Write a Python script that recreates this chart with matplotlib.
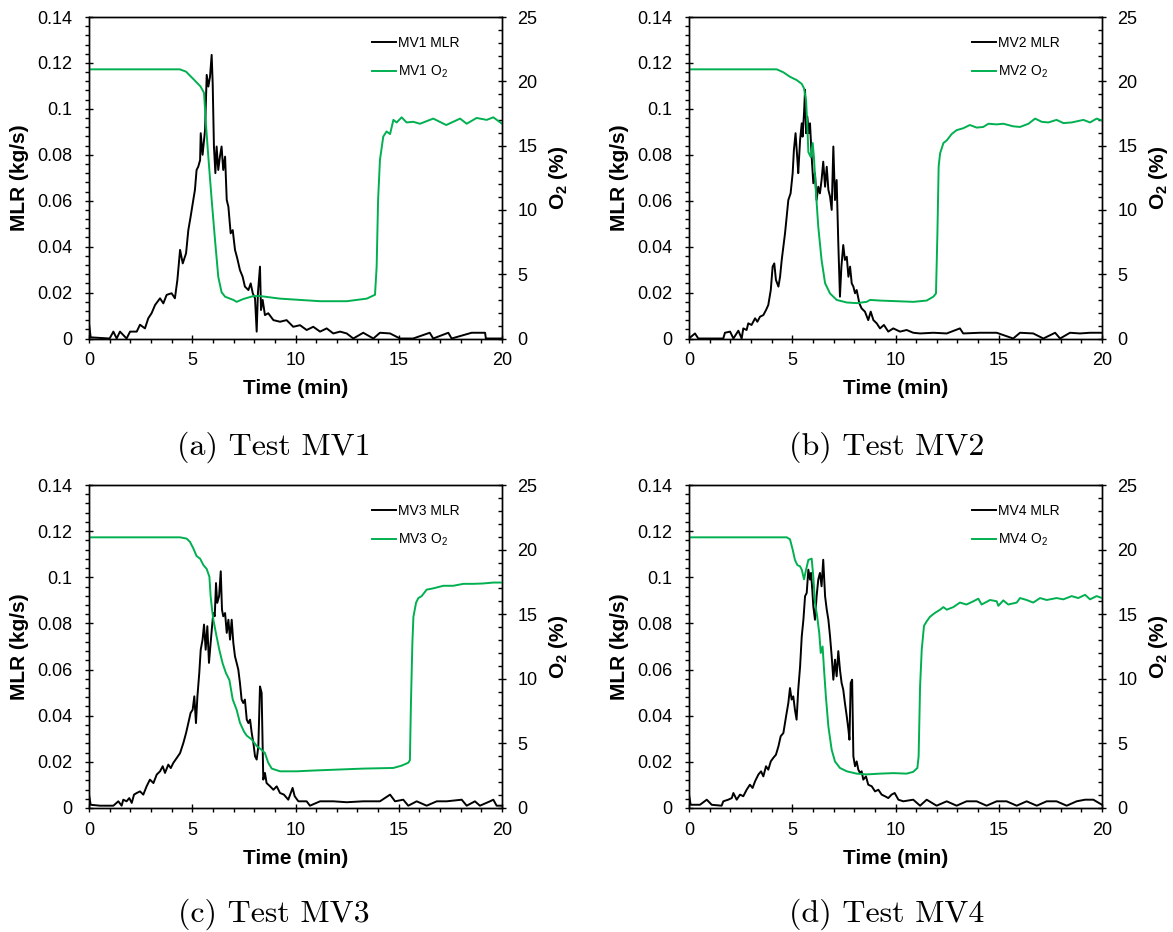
import numpy as np
import matplotlib
matplotlib.use('Agg')
import matplotlib.pyplot as plt
from matplotlib.ticker import MultipleLocator, FuncFormatter

plt.rcParams['font.family'] = ['Liberation Sans', 'DejaVu Sans']
plt.rcParams['mathtext.fontset'] = 'custom'
plt.rcParams['mathtext.rm'] = 'Liberation Sans'
plt.rcParams['mathtext.bf'] = 'Liberation Sans:bold'

GREEN = '#00B050'

# ---- Test MV1 ----
t_mlr1 = [0.0, 0.08, 1.0, 1.18, 1.34, 1.5, 1.82, 1.99, 2.31, 2.47, 2.71, 2.87, 3.03, 3.2, 3.44, 3.6,
          3.76, 4.0, 4.16, 4.28, 4.41, 4.54, 4.7, 4.81, 4.92, 5.05, 5.13, 5.21, 5.29, 5.38, 5.41, 5.5,
          5.62, 5.7, 5.78, 5.86, 5.94, 5.99, 6.05, 6.12, 6.18, 6.26, 6.34, 6.42, 6.5, 6.59, 6.67, 6.75,
          6.86, 6.96, 7.07, 7.18, 7.31, 7.44, 7.55, 7.72, 7.83, 7.93, 8.04, 8.12, 8.18, 8.28, 8.33, 8.41,
          8.52, 8.68, 8.93, 9.25, 9.57, 9.89, 10.22, 10.54, 10.86, 11.19, 11.51, 11.83, 12.16, 12.48,
          12.8, 13.28, 13.77, 14.09, 14.58, 15.06, 15.7, 16.5, 16.67, 17.4, 17.56, 18.53, 19.18, 19.22, 20.0]
mlr1 = [0.0066, 0.0005, 0.0, 0.003, 0.0, 0.003, 0.0, 0.003, 0.003, 0.006, 0.0044, 0.0088, 0.011, 0.0146,
        0.0175, 0.0153, 0.019, 0.0197, 0.0175, 0.0255, 0.0386, 0.0327, 0.0371, 0.0472, 0.053, 0.0603,
        0.0647, 0.0734, 0.0748, 0.0777, 0.0894, 0.08, 0.0908, 0.1148, 0.1097, 0.114, 0.1235, 0.111,
        0.0836, 0.072, 0.0836, 0.0734, 0.0792, 0.0836, 0.0734, 0.0792, 0.0603, 0.0574, 0.0458, 0.0472,
        0.0386, 0.0349, 0.0298, 0.0269, 0.0226, 0.0211, 0.024, 0.0197, 0.0175, 0.003, 0.0197, 0.0313,
        0.0124, 0.0168, 0.0102, 0.011, 0.008, 0.0073, 0.008, 0.0051, 0.0058, 0.0037, 0.0051, 0.003,
        0.0044, 0.0022, 0.003, 0.0022, 0.0, 0.0025, 0.0, 0.0025, 0.0022, 0.0, 0.0, 0.0025, 0.0, 0.0025,
        0.0, 0.0025, 0.0025, 0.0, 0.0]
t_o2_1 = [0.0, 4.4, 4.7, 5.1, 5.4, 5.57, 5.67, 5.78, 5.94, 6.1, 6.26, 6.42, 6.59, 6.99, 7.15, 7.47, 7.96,
          8.28, 9.25, 11.19, 12.48, 13.45, 13.85, 13.93, 14.0, 14.09, 14.25, 14.41, 14.58, 14.74, 14.9,
          15.14, 15.38, 15.7, 16.03, 16.67, 17.3, 17.97, 18.29, 18.77, 19.26, 19.58, 20.0]
o2_1 = [20.93, 20.93, 20.75, 20.1, 19.6, 19.1, 16.5, 14.1, 10.8, 7.7, 4.8, 3.6, 3.25, 3.0, 2.85, 3.07,
        3.3, 3.3, 3.1, 2.9, 2.9, 3.1, 3.4, 5.6, 10.8, 13.9, 15.7, 16.1, 15.9, 17.0, 16.8, 17.2, 16.8,
        16.85, 16.7, 17.1, 16.6, 17.1, 16.7, 17.15, 17.0, 17.2, 16.7]

# ---- Test MV2 ----
t_mlr2 = [0.0, 0.29, 0.45, 1.66, 1.74, 1.99, 2.15, 2.39, 2.55, 2.63, 2.79, 2.87, 3.03, 3.2, 3.31, 3.44,
          3.6, 3.73, 3.84, 3.96, 4.05, 4.13, 4.21, 4.33, 4.41, 4.49, 4.57, 4.65, 4.73, 4.81, 4.92, 5.02,
          5.08, 5.16, 5.25, 5.29, 5.38, 5.46, 5.5, 5.57, 5.62, 5.67, 5.73, 5.8, 5.86, 5.94, 6.02, 6.1,
          6.18, 6.26, 6.34, 6.42, 6.5, 6.59, 6.67, 6.75, 6.83, 6.91, 6.99, 7.07, 7.15, 7.23, 7.31, 7.38,
          7.47, 7.55, 7.64, 7.72, 7.8, 7.88, 7.96, 8.04, 8.12, 8.25, 8.36, 8.52, 8.68, 8.8, 8.93, 9.09,
          9.25, 9.44, 9.65, 9.89, 10.22, 10.54, 10.86, 11.19, 11.83, 12.48, 13.12, 13.28, 14.09, 14.9,
          15.7, 16.03, 16.67, 17.16, 17.73, 17.97, 18.45, 18.93, 19.42, 20.0]
mlr2 = [0.0, 0.0022, 0.0, 0.0, 0.0025, 0.003, 0.0, 0.0034, 0.0, 0.0044, 0.0037, 0.0066, 0.0059, 0.0088,
        0.0073, 0.0095, 0.0102, 0.0124, 0.0146, 0.0211, 0.0313, 0.0327, 0.0255, 0.0226, 0.0269, 0.0342,
        0.04, 0.0458, 0.053, 0.0603, 0.0632, 0.072, 0.0821, 0.0894, 0.0777, 0.072, 0.0865, 0.0937,
        0.0879, 0.098, 0.1083, 0.0894, 0.0966, 0.0894, 0.0937, 0.0792, 0.0676, 0.072, 0.0603, 0.0661,
        0.0632, 0.069, 0.077, 0.0661, 0.0748, 0.0647, 0.0618, 0.056, 0.0836, 0.0603, 0.069, 0.0415,
        0.0182, 0.0313, 0.0407, 0.0342, 0.0356, 0.0269, 0.0313, 0.024, 0.0226, 0.0197, 0.0211, 0.0153,
        0.0131, 0.0117, 0.008, 0.0117, 0.008, 0.0066, 0.0044, 0.0059, 0.003, 0.0044, 0.003, 0.0037,
        0.0025, 0.0022, 0.0025, 0.0022, 0.0044, 0.0022, 0.0025, 0.0025, 0.0, 0.0025, 0.0022, 0.0,
        0.0025, 0.0, 0.0025, 0.0022, 0.0025, 0.0025]
t_o2_2 = [0.0, 4.25, 4.57, 4.89, 5.21, 5.46, 5.57, 5.67, 5.73, 5.78, 5.9, 5.99, 6.05, 6.15, 6.26, 6.42,
          6.59, 6.83, 7.15, 7.64, 8.12, 8.6, 8.77, 9.25, 10.06, 10.86, 11.51, 11.83, 11.96, 12.03, 12.09,
          12.16, 12.32, 12.48, 12.72, 12.96, 13.28, 13.6, 13.93, 14.25, 14.5, 14.9, 15.22, 15.7, 16.03,
          16.44, 16.76, 17.08, 17.4, 17.8, 18.13, 18.53, 19.1, 19.42, 19.74, 20.0]
o2_2 = [20.93, 20.93, 20.7, 20.35, 20.1, 19.8, 19.45, 18.5, 16.5, 14.5, 14.1, 15.2, 14.1, 11.3, 8.7,
        6.1, 4.3, 3.5, 3.0, 2.8, 2.75, 2.85, 3.0, 2.95, 2.9, 2.85, 2.95, 3.25, 3.5, 8.2, 13.4, 14.4, 15.2,
        15.4, 15.9, 16.2, 16.35, 16.6, 16.4, 16.45, 16.7, 16.65, 16.7, 16.5, 16.45, 16.7, 17.1, 16.85,
        16.8, 17.0, 16.75, 16.8, 17.0, 16.8, 17.1, 16.95]

# ---- Test MV3 ----
t_mlr3 = [0.0, 0.08, 0.53, 1.18, 1.42, 1.58, 1.66, 1.82, 1.95, 2.07, 2.18, 2.31, 2.47, 2.63, 2.79, 2.95,
          3.12, 3.28, 3.44, 3.57, 3.68, 3.84, 3.96, 4.08, 4.25, 4.41, 4.57, 4.7, 4.81, 4.92, 5.02, 5.1,
          5.18, 5.25, 5.34, 5.41, 5.5, 5.57, 5.65, 5.73, 5.81, 5.89, 5.96, 6.02, 6.09, 6.15, 6.21, 6.3,
          6.38, 6.44, 6.5, 6.59, 6.67, 6.75, 6.83, 6.91, 6.99, 7.07, 7.15, 7.23, 7.31, 7.39, 7.47, 7.55,
          7.64, 7.72, 7.8, 7.88, 7.96, 8.04, 8.12, 8.2, 8.28, 8.36, 8.44, 8.52, 8.6, 8.77, 8.93, 9.09,
          9.25, 9.44, 9.65, 9.86, 9.96, 10.14, 10.54, 10.7, 11.19, 11.83, 12.48, 13.28, 14.09, 14.58,
          14.82, 15.22, 15.46, 15.87, 16.35, 16.84, 17.32, 18.05, 18.29, 18.69, 18.93, 19.42, 19.58,
          19.74, 20.0]
mlr3 = [0.0058, 0.0014, 0.001, 0.001, 0.0029, 0.001, 0.0036, 0.0029, 0.0043, 0.0022, 0.0058, 0.0065,
        0.0072, 0.0058, 0.0094, 0.0123, 0.0108, 0.0145, 0.0159, 0.0181, 0.0152, 0.0188, 0.0173, 0.0195,
        0.0217, 0.0238, 0.0282, 0.0325, 0.0368, 0.0412, 0.0426, 0.0484, 0.0368, 0.0484, 0.0585, 0.0686,
        0.073, 0.0795, 0.0686, 0.0788, 0.0629, 0.0715, 0.0788, 0.0845, 0.0831, 0.0975, 0.0889, 0.0918,
        0.1026, 0.086, 0.0831, 0.0845, 0.0759, 0.0816, 0.073, 0.0816, 0.0715, 0.0657, 0.0629, 0.06,
        0.0542, 0.047, 0.0455, 0.047, 0.0383, 0.0368, 0.0383, 0.0325, 0.0282, 0.0224, 0.021, 0.0267,
        0.0527, 0.0499, 0.0123, 0.0152, 0.0108, 0.0094, 0.0079, 0.0094, 0.0065, 0.0058, 0.0036, 0.0087,
        0.0051, 0.0029, 0.0029, 0.001, 0.0029, 0.0029, 0.0025, 0.0029, 0.0029, 0.0058, 0.0029, 0.0036,
        0.001, 0.0029, 0.001, 0.0029, 0.0029, 0.0036, 0.001, 0.0029, 0.001, 0.0029, 0.0036, 0.001, 0.001]
t_o2_3 = [0.0, 4.41, 4.73, 4.89, 5.05, 5.21, 5.38, 5.54, 5.7, 5.83, 5.89, 5.96, 6.02, 6.15, 6.31, 6.47,
          6.63, 6.8, 6.96, 7.15, 7.31, 7.51, 7.64, 7.88, 8.12, 8.36, 8.52, 8.68, 8.85, 9.25, 10.06, 10.86,
          11.99, 13.28, 14.74, 15.14, 15.46, 15.54, 15.59, 15.66, 15.71, 15.84, 15.95, 16.11, 16.35,
          16.67, 17.16, 17.64, 18.13, 18.61, 19.1, 19.58, 20.0]
o2_3 = [20.95, 20.95, 20.85, 20.6, 20.1, 19.5, 19.3, 18.8, 18.5, 17.9, 16.4, 15.35, 14.6, 13.5, 12.25,
        11.2, 10.45, 9.9, 8.4, 7.6, 6.6, 5.9, 5.6, 5.3, 4.8, 4.5, 4.25, 3.5, 3.05, 2.84, 2.84, 2.9, 2.97,
        3.05, 3.1, 3.28, 3.5, 3.7, 8.1, 12.8, 14.8, 15.9, 16.25, 16.4, 16.9, 17.0, 17.2, 17.2, 17.35,
        17.35, 17.38, 17.45, 17.45]

# ---- Test MV4 ----
t_mlr4 = [0.0, 0.08, 0.53, 0.86, 1.1, 1.58, 1.66, 1.9, 2.07, 2.15, 2.31, 2.47, 2.63, 2.79, 2.95, 3.08,
          3.2, 3.36, 3.49, 3.6, 3.73, 3.84, 3.96, 4.08, 4.21, 4.33, 4.44, 4.57, 4.7, 4.81, 4.89, 4.97,
          5.05, 5.13, 5.21, 5.29, 5.38, 5.46, 5.54, 5.62, 5.7, 5.78, 5.86, 5.91, 5.97, 6.02, 6.1, 6.18,
          6.26, 6.34, 6.42, 6.5, 6.59, 6.67, 6.75, 6.83, 6.91, 6.99, 7.07, 7.15, 7.23, 7.31, 7.39, 7.47,
          7.55, 7.64, 7.72, 7.77, 7.83, 7.9, 7.96, 8.04, 8.12, 8.2, 8.28, 8.36, 8.44, 8.57, 8.68, 8.85,
          9.01, 9.17, 9.33, 9.49, 9.65, 9.81, 9.96, 10.14, 10.38, 10.86, 11.19, 11.51, 11.99, 12.48,
          12.96, 13.44, 13.93, 14.41, 14.9, 15.38, 15.87, 16.35, 16.84, 17.32, 17.8, 18.29, 18.77, 19.18,
          19.58, 20.0]
mlr4 = [0.0058, 0.0014, 0.0014, 0.0036, 0.0014, 0.001, 0.0029, 0.0036, 0.0043, 0.0065, 0.0036, 0.0058,
        0.0051, 0.0079, 0.0101, 0.0087, 0.0116, 0.0145, 0.0159, 0.0137, 0.0181, 0.0166, 0.0202, 0.0217,
        0.0231, 0.0267, 0.0311, 0.0325, 0.0397, 0.0455, 0.052, 0.047, 0.0484, 0.0426, 0.0383, 0.0513,
        0.0614, 0.0744, 0.0816, 0.0918, 0.0932, 0.1033, 0.099, 0.1019, 0.0946, 0.0874, 0.0816, 0.0918,
        0.099, 0.1019, 0.0961, 0.1076, 0.0918, 0.086, 0.0816, 0.0744, 0.0657, 0.0556, 0.0643, 0.0571,
        0.068, 0.06, 0.0542, 0.0513, 0.0455, 0.0397, 0.034, 0.0296, 0.0542, 0.0556, 0.0224, 0.0181,
        0.0202, 0.0166, 0.0152, 0.0159, 0.0123, 0.0137, 0.0101, 0.0094, 0.0072, 0.0079, 0.0058, 0.0051,
        0.0043, 0.0058, 0.0065, 0.0036, 0.0029, 0.0036, 0.001, 0.0036, 0.001, 0.0029, 0.001, 0.0029,
        0.0029, 0.001, 0.0029, 0.0029, 0.001, 0.0029, 0.001, 0.0029, 0.0029, 0.001, 0.0029, 0.0036,
        0.0036, 0.0014]
t_o2_4 = [0.0, 4.73, 4.89, 5.02, 5.13, 5.25, 5.38, 5.46, 5.57, 5.67, 5.78, 5.94, 6.02, 6.1, 6.21, 6.31,
          6.38, 6.47, 6.54, 6.63, 6.75, 6.91, 7.07, 7.31, 7.64, 8.12, 8.6, 9.25, 9.9, 10.54, 10.86, 11.06,
          11.12, 11.19, 11.27, 11.38, 11.51, 11.67, 11.91, 12.16, 12.32, 12.48, 12.8, 13.12, 13.44,
          13.77, 14.01, 14.17, 14.58, 14.9, 14.98, 15.22, 15.46, 15.87, 16.03, 16.35, 16.67, 17.0,
          17.32, 17.8, 18.13, 18.53, 18.85, 19.18, 19.42, 19.74, 20.0]
o2_4 = [20.95, 20.95, 20.8, 20.0, 19.2, 18.8, 18.7, 18.45, 17.7, 18.45, 19.2, 19.3, 17.9, 15.9, 14.8,
        13.5, 12.0, 12.5, 10.7, 8.6, 6.3, 4.5, 3.6, 3.1, 2.84, 2.66, 2.6, 2.66, 2.7, 2.66, 2.8, 3.1, 4.0,
        9.4, 12.25, 14.1, 14.45, 14.8, 15.1, 15.35, 15.55, 15.35, 15.55, 15.9, 15.75, 16.0, 16.2, 15.75,
        16.1, 16.0, 15.65, 16.07, 15.75, 15.9, 16.25, 16.1, 15.9, 16.25, 16.1, 16.25, 16.15, 16.4, 16.25,
        16.5, 16.15, 16.4, 16.25]

tests = ['MV1', 'MV2', 'MV3', 'MV4']
letters = ['a', 'b', 'c', 'd']
t_mlr_all = [t_mlr1, t_mlr2, t_mlr3, t_mlr4]
mlr_all = [mlr1, mlr2, mlr3, mlr4]
t_o2_all = [t_o2_1, t_o2_2, t_o2_3, t_o2_4]
o2_all = [o2_1, o2_2, o2_3, o2_4]

fig = plt.figure(figsize=(11.73, 9.32), dpi=100)
W, H = 1173.0, 932.0
# axes boxes in pixels: left, top, right, bottom
boxes = [(89, 17, 502, 338.5), (689, 17, 1102, 338.5),
         (89, 485, 502, 808), (689, 485, 1102, 808)]
captions_xy = [(274, 447), (887, 447), (274, 914), (887, 914)]

fmt = FuncFormatter(lambda v, p: '%g' % round(v, 4))

for i in range(4):
    l, t, r, b = boxes[i]
    ax = fig.add_axes([l / W, 1 - b / H, (r - l) / W, (b - t) / H])
    ax2 = ax.twinx()

    ax.plot(t_mlr_all[i], mlr_all[i], color='black', lw=1.4, label=tests[i] + ' MLR')
    ax2.plot(t_o2_all[i], o2_all[i], color=GREEN, lw=1.4, label=tests[i] + ' O$_2$')

    ax.set_xlim(0, 20)
    ax.set_ylim(0, 0.14)
    ax2.set_ylim(0, 25)
    ax.xaxis.set_major_locator(MultipleLocator(5))
    ax.xaxis.set_minor_locator(MultipleLocator(1))
    ax.yaxis.set_major_locator(MultipleLocator(0.02))
    ax.yaxis.set_minor_locator(MultipleLocator(0.004))
    ax.yaxis.set_major_formatter(fmt)
    ax2.yaxis.set_major_locator(MultipleLocator(5))
    ax2.yaxis.set_minor_locator(MultipleLocator(1))

    ax.tick_params(axis='x', which='major', direction='inout', length=6, width=1, labelsize=13, pad=7)
    ax.tick_params(axis='x', which='minor', direction='out', length=3, width=1)
    ax.tick_params(axis='y', which='major', direction='inout', length=6, width=1, labelsize=13, pad=9)
    ax.tick_params(axis='y', which='minor', direction='out', length=3, width=1)
    ax2.tick_params(axis='y', which='major', direction='inout', length=6, width=1, labelsize=13, pad=8)
    ax2.tick_params(axis='y', which='minor', direction='in', length=3, width=1)
    for a in (ax, ax2):
        for s in a.spines.values():
            s.set_linewidth(1)

    ax.set_xlabel('Time (min)', fontsize=15, fontweight='bold')
    ax.xaxis.set_label_coords(0.5, -0.127)
    ax.set_ylabel('MLR (kg/s)', fontsize=15, fontweight='bold')
    ax.yaxis.set_label_coords(-0.145, 0.5)
    ax2.set_ylabel(r'$\mathbf{O_2}$ (%)', fontsize=15, fontweight='bold')
    ax2.yaxis.set_label_coords(1.11, 0.5)

    h1, l1 = ax.get_legend_handles_labels()
    h2, l2 = ax2.get_legend_handles_labels()
    ax2.legend(h1 + h2, l1 + l2, loc='upper left', bbox_to_anchor=(0.685, 0.942),
               frameon=False, fontsize=10, handlelength=1.7, handletextpad=0.15,
               labelspacing=1.0, borderpad=0, borderaxespad=0)

    cx, cy = captions_xy[i]
    fig.text(cx / W, 1 - cy / H, '(%s) Test %s' % (letters[i], tests[i]),
             family='cmr10', fontsize=23, ha='center', va='center')

fig.savefig('out.png', dpi=100)
